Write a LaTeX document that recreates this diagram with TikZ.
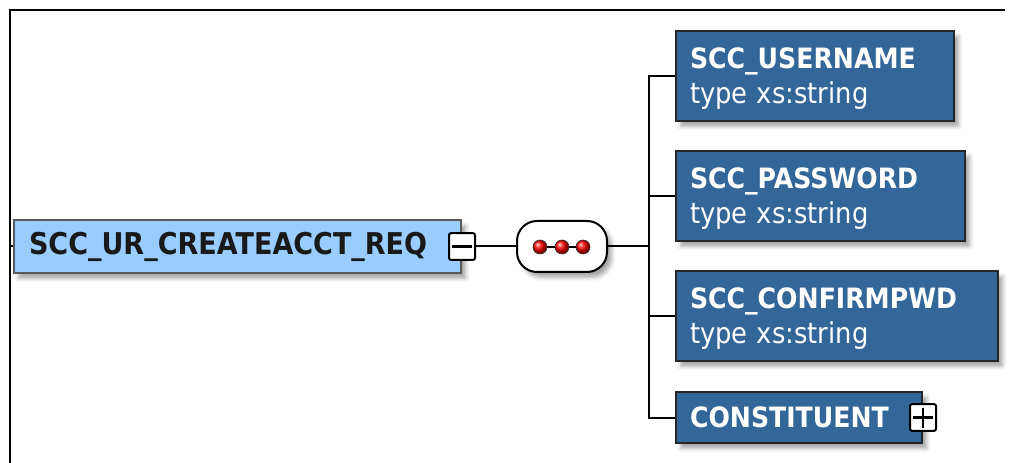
\documentclass[tikz,border=0pt]{standalone}
\usepackage{fontspec}
\newfontfamily\xsdfont[FakeStretch=0.9]{DejaVu Sans}
\usetikzlibrary{positioning,calc,shadows.blur}
\definecolor{rootblue}{HTML}{99CCFF}
\definecolor{elemblue}{HTML}{336699}
\newcommand\xsdtitle[1]{\rule{0pt}{20pt}\textbf{#1}}
\newcommand\xsdtype[1]{{\fontsize{21.5}{26.25}\selectfont #1}}
\tikzset{
  shade/.style={blur shadow={shadow xshift=3.5pt,shadow yshift=-4pt,shadow blur radius=3pt,shadow opacity=35}},
  rootbox/.style={draw=black!65,line width=1.5pt,fill=rootblue,shade,anchor=west,inner xsep=11.25pt,
    text width=312.75pt,minimum height=39.75pt,align=left,text=black!90,
    font=\xsdfont\fontsize{22.5}{27}\selectfont\bfseries},
  elembox/.style={draw=black!85,line width=1.5pt,fill=elemblue,shade,anchor=west,inner xsep=10.5pt,
    text width=#1,minimum height=67.5pt,align=left,text=white,
    font=\xsdfont\fontsize{21}{26.25}\selectfont},
  seqbox/.style={draw=black,line width=1.5pt,fill=white,shade,rounded corners=15pt,
    minimum width=67.5pt,minimum height=38.25pt},
  dot/.style={circle,draw=black!80,line width=0.5pt,ball color=red,minimum size=10.5pt,inner sep=0pt},
  toggle/.style={draw=black,line width=1.5pt,fill=white,rounded corners=1.5pt,minimum width=19.5pt,
    minimum height=20pt,inner sep=0pt},
  minus/.style={toggle,path picture={\draw[line width=2pt]
    ($(path picture bounding box.west)+(2.5pt,0)$) -- ($(path picture bounding box.east)+(-2.5pt,0)$);}},
  plus/.style={toggle,path picture={\draw[line width=2pt]
    ($(path picture bounding box.west)+(2.5pt,0)$) -- ($(path picture bounding box.east)+(-2.5pt,0)$)
    ($(path picture bounding box.north)+(0,-2.5pt)$) -- ($(path picture bounding box.south)+(0,2.5pt)$);}},
  link/.style={line width=1.5pt,draw=black}
}
\begin{document}
\begin{tikzpicture}[x=0.75pt,y=-0.75pt]
  \useasboundingbox (0,0) rectangle (1010,463);
  \draw[line width=1.2pt] (10,463) -- (10,10) -- (1005,10); % 枠
  \node[rootbox] (root) at (13,246.5) {SCC\_UR\_CREATEACCT\_REQ}; % 親要素
  \node[minus] (fold) at (root.east) {};
  \node[seqbox] (seq) at (562,246.5) {}; % シーケンス
  \node[dot] (d1) at (540,247) {};
  \node[dot] (d2) at (562,247) {};
  \node[dot] (d3) at (583,247) {};
  \coordinate (fork) at (649,246.5); % 分岐点
  \node[elembox=187.5pt] (user) at (675,76) {\xsdtitle{SCC\_USERNAME}\\\xsdtype{type xs:string}};
  \node[elembox=195.75pt] (pass) at (675,196) {\xsdtitle{SCC\_PASSWORD}\\\xsdtype{type xs:string}};
  \node[elembox=220.5pt] (conf) at (675,316) {\xsdtitle{SCC\_CONFIRMPWD}\\\xsdtype{type xs:string}};
  \node[elembox=163.5pt,minimum height=38.25pt] (cons) at (675,417.5) {\textbf{CONSTITUENT}};
  \node[plus] (unfold) at (cons.east) {};
  \draw[link] (d1) -- (d2) (d2) -- (d3); % 点をつなぐ線
  \draw[link] (10,246.5) -- (root.west);
  \draw[link] (fold.east) -- (seq.west);
  \draw[link] (seq.east) -- (fork);
  \draw[link] (fork) |- (user.west);
  \draw[link] (fork) |- (pass.west);
  \draw[link] (fork) |- (conf.west);
  \draw[link] (fork) |- (cons.west);
\end{tikzpicture}
\end{document}
